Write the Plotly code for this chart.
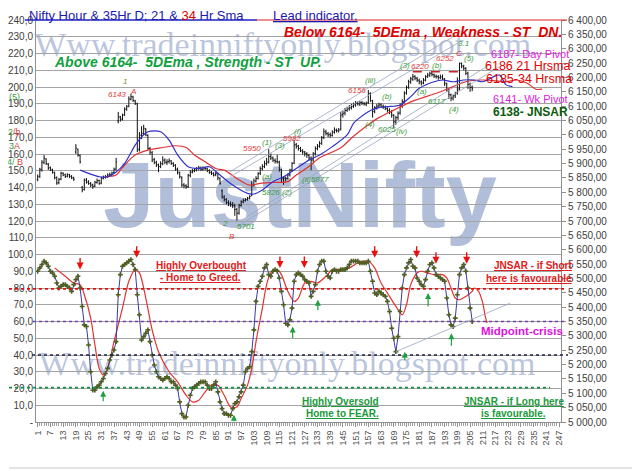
import plotly.graph_objects as go

# hourly bars (bar number on the x axis)
bars = list(range(1, 207))

price_open = [
    5845, 5856, 5878, 5903, 5916, 5898, 5886, 5878, 5868, 5852,
    5834, 5846, 5866, 5861, 5856, 5861, 5856, 5851, 5940, 5950,
    5928, 5818, 5810, 5842, 5836, 5831, 5826, 5822, 5834, 5841,
    5832, 5849, 5851, 5854, 5859, 5861, 5868, 5881, 6048, 6062,
    6054, 6070, 6088, 6100, 6124, 6132, 6118, 6108, 5950, 5998,
    6004, 6020, 5998, 5952, 5938, 5914, 5903, 5896, 5890, 5899,
    5912, 5904, 5907, 5909, 5901, 5894, 5881, 5868, 5850, 5826,
    5823, 5820, 5858, 5870, 5874, 5877, 5882, 5884, 5879, 5884,
    5882, 5876, 5869, 5865, 5861, 5865, 5849, 5805, 5783, 5774,
    5764, 5760, 5757, 5754, 5741, 5728, 5754, 5766, 5771, 5774,
    5780, 5790, 5826, 5839, 5849, 5866, 5882, 5889, 5899, 5906,
    5925, 5919, 5911, 5907, 5905, 5878, 5849, 5851, 5849, 5861,
    5878, 5902, 5966, 5961, 5952, 5944, 5940, 5934, 5929, 5919,
    5913, 5934, 5952, 5961, 5971, 5991, 6010, 6004, 6001, 5998,
    6009, 6016, 6014, 6020, 6070, 6076, 6085, 6091, 6094, 6099,
    6104, 6111, 6107, 6113, 6109, 6107, 6112, 6144, 6118, 6082,
    6094, 6101, 6105, 6099, 6097, 6091, 6085, 6079, 6068, 6044,
    6061, 6076, 6101, 6116, 6146, 6166, 6184, 6194, 6203, 6197,
    6190, 6184, 6181, 6191, 6203, 6207, 6215, 6209, 6204, 6203,
    6199, 6201, 6194, 6178, 6155, 6139, 6128, 6136, 6146, 6160,
    6248, 6238, 6231, 6215, 6176, 6166,
]
price_high = [
    5862, 5885, 5912, 5930, 5918, 5902, 5890, 5882, 5872, 5855,
    5850, 5872, 5870, 5865, 5866, 5864, 5860, 5854, 5968, 5952,
    5932, 5822, 5848, 5850, 5842, 5836, 5830, 5840, 5848, 5844,
    5854, 5858, 5860, 5866, 5868, 5872, 5886, 5920, 6080, 6066,
    6074, 6096, 6104, 6134, 6143, 6136, 6122, 6112, 6010, 6030,
    6035, 6024, 6002, 5958, 5944, 5920, 5910, 5900, 5908, 5925,
    5918, 5915, 5918, 5912, 5905, 5898, 5886, 5872, 5856, 5832,
    5828, 5864, 5878, 5882, 5884, 5888, 5892, 5890, 5890, 5888,
    5886, 5880, 5874, 5870, 5872, 5868, 5852, 5810, 5790, 5780,
    5772, 5768, 5766, 5760, 5745, 5760, 5772, 5778, 5780, 5784,
    5790, 5840, 5848, 5856, 5870, 5890, 5898, 5910, 5920, 5950,
    5935, 5925, 5918, 5930, 5910, 5882, 5856, 5855, 5865, 5882,
    5905, 5982, 5972, 5965, 5958, 5950, 5944, 5940, 5934, 5925,
    5940, 5960, 5968, 5978, 5996, 6022, 6018, 6010, 6008, 6016,
    6026, 6022, 6024, 6080, 6084, 6094, 6098, 6104, 6108, 6112,
    6118, 6116, 6118, 6118, 6115, 6116, 6156, 6148, 6122, 6100,
    6108, 6112, 6110, 6106, 6102, 6096, 6092, 6086, 6072, 6066,
    6082, 6110, 6124, 6152, 6172, 6192, 6202, 6212, 6208, 6202,
    6196, 6190, 6198, 6208, 6216, 6220, 6220, 6214, 6210, 6208,
    6210, 6210, 6198, 6182, 6160, 6144, 6140, 6150, 6200, 6252,
    6252, 6244, 6236, 6220, 6182, 6172,
]
price_low = [
    5838, 5850, 5872, 5898, 5895, 5878, 5874, 5865, 5845, 5826,
    5828, 5842, 5856, 5850, 5852, 5850, 5846, 5840, 5934, 5924,
    5900, 5800, 5806, 5830, 5826, 5818, 5812, 5818, 5830, 5826,
    5828, 5845, 5848, 5850, 5855, 5858, 5864, 5876, 6040, 6046,
    6050, 6066, 6084, 6096, 6120, 6114, 6104, 5940, 5942, 5985,
    6000, 5995, 5948, 5930, 5905, 5898, 5888, 5870, 5884, 5894,
    5898, 5895, 5900, 5895, 5888, 5875, 5862, 5848, 5818, 5814,
    5812, 5815, 5852, 5866, 5870, 5873, 5876, 5874, 5875, 5876,
    5870, 5864, 5860, 5855, 5856, 5842, 5826, 5778, 5768, 5758,
    5752, 5750, 5745, 5718, 5701, 5722, 5750, 5762, 5768, 5771,
    5775, 5786, 5820, 5834, 5844, 5860, 5876, 5884, 5893, 5900,
    5912, 5905, 5900, 5900, 5872, 5836, 5826, 5838, 5845, 5855,
    5872, 5898, 5952, 5945, 5940, 5932, 5925, 5920, 5912, 5877,
    5905, 5928, 5946, 5955, 5965, 5985, 5998, 5992, 5990, 5994,
    6004, 6008, 6008, 6015, 6060, 6068, 6080, 6084, 6088, 6094,
    6098, 6102, 6100, 6104, 6102, 6100, 6108, 6115, 6060, 6075,
    6088, 6094, 6094, 6090, 6086, 6078, 6072, 6060, 6025, 6035,
    6052, 6070, 6094, 6110, 6140, 6160, 6178, 6188, 6190, 6184,
    6176, 6172, 6176, 6186, 6198, 6202, 6204, 6198, 6196, 6192,
    6194, 6190, 6170, 6150, 6125, 6117, 6120, 6128, 6140, 6155,
    6232, 6225, 6208, 6160, 6150, 6152,
]
price_close = [
    5854, 5880, 5905, 5919, 5900, 5884, 5880, 5870, 5850, 5832,
    5845, 5867, 5860, 5855, 5862, 5855, 5850, 5845, 5954, 5930,
    5906, 5808, 5843, 5835, 5830, 5825, 5820, 5835, 5840, 5830,
    5850, 5852, 5855, 5860, 5862, 5867, 5880, 5906, 6063, 6055,
    6069, 6090, 6098, 6125, 6133, 6120, 6110, 5947, 5999, 6005,
    6023, 6000, 5953, 5940, 5912, 5905, 5895, 5889, 5900, 5912,
    5905, 5906, 5910, 5900, 5895, 5880, 5870, 5854, 5825, 5822,
    5819, 5860, 5871, 5875, 5878, 5883, 5885, 5880, 5885, 5883,
    5875, 5870, 5866, 5860, 5866, 5850, 5831, 5784, 5775, 5765,
    5761, 5758, 5755, 5740, 5727, 5755, 5767, 5772, 5775, 5779,
    5785, 5825, 5840, 5848, 5865, 5883, 5890, 5900, 5905, 5924,
    5920, 5912, 5908, 5906, 5880, 5848, 5850, 5848, 5860, 5877,
    5900, 5964, 5960, 5953, 5945, 5941, 5935, 5930, 5920, 5912,
    5935, 5953, 5960, 5970, 5990, 6011, 6005, 6000, 5999, 6010,
    6017, 6015, 6017, 6069, 6075, 6086, 6090, 6095, 6098, 6105,
    6110, 6108, 6112, 6110, 6108, 6110, 6145, 6120, 6081, 6095,
    6100, 6104, 6100, 6098, 6092, 6086, 6080, 6069, 6046, 6060,
    6075, 6100, 6115, 6145, 6165, 6185, 6195, 6202, 6198, 6191,
    6185, 6180, 6190, 6202, 6208, 6214, 6210, 6205, 6202, 6200,
    6202, 6195, 6180, 6156, 6140, 6127, 6135, 6145, 6156, 6249,
    6240, 6232, 6214, 6175, 6165, 6162,
]

# 21 and 34 hour SMA (read at points along the lines, incl. projection)
sma21_x = [21, 25, 30, 34, 38, 42, 47, 50, 53, 56,
           59, 63, 67, 72, 77, 82, 87, 93, 100, 103,
           107, 112, 117, 123, 129, 134, 140, 147, 150, 153,
           158, 162, 166, 172, 177, 181, 188, 192, 197, 202,
           207, 211, 216, 219, 222, 225]
sma21 = [5877, 5866, 5854, 5854, 5871, 5900, 5964, 5993, 6011, 6014,
         6011, 5982, 5930, 5889, 5883, 5889, 5860, 5825, 5796, 5794,
         5808, 5837, 5854, 5883, 5912, 5930, 5959, 6000, 6040, 6060,
         6085, 6095, 6098, 6104, 6133, 6162, 6185, 6191, 6185, 6191,
         6191, 6185, 6202, 6208, 6174, 6168]
sma34_x = [33, 38, 42, 47, 53, 60, 66, 71, 75, 80,
           85, 89, 95, 101, 106, 112, 119, 123, 129, 134,
           144, 150, 156, 162, 169, 177, 185, 191, 197, 203,
           210, 216, 222, 227, 232, 236, 239]
sma34 = [5854, 5860, 5895, 5930, 5947, 5956, 5962, 5956, 5930, 5906,
         5883, 5877, 5848, 5825, 5831, 5834, 5837, 5860, 5890, 5920,
         5955, 5995, 6030, 6060, 6086, 6115, 6135, 6150, 6168, 6185,
         6191, 6189, 6185, 6191, 6180, 6159, 6159]

# lead indicator (fast line, one value per bar)
osc_fast = [
    90, 92, 94, 96, 95, 93, 90, 89, 87, 83,
    80, 81, 82, 82, 81, 80, 78, 82, 85, 87,
    80, 69, 58, 57, 46, 30, 19, 19, 21, 22,
    24, 26, 29, 32, 37, 40, 43, 48, 76, 88,
    93, 94, 95, 96, 97, 94, 91, 76, 64, 49,
    51, 53, 55, 48, 40, 34, 30, 27, 26, 25,
    26, 27, 26, 24, 24, 22, 20, 12, 5, 3,
    3, 10, 16, 20, 21, 22, 23, 24, 24, 24,
    22, 20, 20, 22, 24, 18, 12, 8, 5, 5,
    4, 4, 8, 11, 12, 15, 18, 22, 30, 32,
    33, 42, 55, 72, 81, 84, 87, 92, 94, 88,
    87, 90, 91, 90, 86, 78, 70, 59, 58, 61,
    68, 84, 88, 89, 88, 87, 85, 84, 83, 75,
    78, 82, 90, 94, 96, 96, 90, 87, 86, 90,
    91, 90, 90, 91, 91, 91, 92, 94, 96, 96,
    96, 96, 95, 95, 95, 95, 96, 90, 84, 77,
    76, 78, 77, 76, 75, 72, 66, 56, 50, 42,
    51, 66, 80, 88, 92, 95, 97, 93, 92, 86,
    84, 82, 81, 85, 90, 94, 95, 92, 88, 87,
    86, 85, 84, 74, 64, 58, 57, 62, 76, 88,
    92, 94, 90, 80, 68, 60,
]

# slow (red) line of the indicator, read at points along the curve
osc_slow_x = [9, 14, 18, 21, 23, 26, 28, 30, 32, 34,
              37, 41, 44, 47, 49, 52, 55, 58, 63, 67,
              71, 74, 77, 80, 83, 86, 89, 92, 95, 97,
              100, 102, 104, 107, 109, 111, 114, 116, 119, 122,
              124, 127, 130, 133, 137, 140, 143, 148, 152, 157,
              160, 163, 166, 170, 173, 175, 177, 180, 182, 185,
              188, 192, 194, 196, 198, 200, 203, 206, 207, 209,
              211, 212, 213]
osc_slow = [92, 87, 83, 82, 76, 62, 46, 32, 28, 32,
            48, 68, 84, 91, 89, 74, 55, 42, 30, 24,
            16, 12, 13, 18, 22, 22, 16, 9, 9, 14,
            22, 32, 48, 68, 82, 89, 91, 88, 78, 72,
            74, 83, 84, 83, 87, 91, 91, 92, 95, 96,
            92, 83, 77, 69, 64, 70, 82, 89, 90, 89,
            88, 88, 86, 80, 74, 73, 75, 78, 80, 78,
            71, 64, 59]

# signal arrows on the indicator: (bar, level) and (bar, level, tail offset px)
sell_arrows = [(21, 91), (47.7, 98), (115.3, 92), (126.8, 92),
               (160, 98), (179.8, 98), (188.9, 94.5), (203.4, 94.5)]
buy_arrows = [(31.9, 18.7, 12), (93.6, 4.4, 8), (121.3, 57, 13), (133.2, 73, 12),
              (185.2, 77, 15), (174.2, 42, 10), (196.2, 53, 14)]

# wave counts on the price panel: (text, colour, bar, price)
RED = "#e23a3a"
GRN = "#3c9a3c"
wave_labels = [
    ("1", "#7a9a10", 42.2, 6185), ("6143", RED, 38.3, 6142), ("A", RED, 46.1, 6150),
    ("5950", RED, 102.3, 5951), ("(1)", GRN, 109, 5974), ("(3)", GRN, 115.3, 5963),
    ("5982", RED, 121, 5986), ("(i)", GRN, 123.8, 6012), ("(a)", GRN, 109, 5854),
    ("5826 (2)", GRN, 113.8, 5798), ("(ii)5877", GRN, 131.9, 5843),
    ("2", GRN, 89.5, 5690), ("5701", GRN, 99.3, 5680), ("B", RED, 92.6, 5647),
    ("6156", RED, 151.5, 6156), ("(iii)", GRN, 158, 6190), ("(4)", GRN, 157.7, 6037),
    ("(b)", GRN, 165.6, 6133), ("6025", GRN, 165.6, 6019), ("(iv)", GRN, 172.7, 6011),
    ("(3)", GRN, 174.3, 6240), ("6220", RED, 181.5, 6237), ("(b)", GRN, 189.3, 6240),
    ("(a)", GRN, 182.1, 6150), ("6252", RED, 193, 6267), ("3.1", GRN, 201.8, 6318),
    ("C", RED, 199.9, 6282), ("(5)", GRN, 204.4, 6267), ("6117", GRN, 189.5, 6115),
    ("(4)", GRN, 197.5, 6088),
]

x_ticks = [1, 7, 13, 19, 25, 31, 37, 43, 49, 55, 61, 67, 73, 79, 85, 91, 97,
           103, 109, 115, 121, 127, 133, 139, 145, 151, 157, 163, 169, 175,
           181, 187, 193, 199, 205, 211, 217, 223, 229, 235, 241, 247]
left_ticks = [0, 10, 20, 30, 40, 50, 60, 70, 80, 90, 100, 110, 120,
              130, 140, 150, 160, 170, 180, 190, 200, 210, 220, 230, 240]
right_ticks = [5000, 5050, 5100, 5150, 5200, 5250, 5300, 5350, 5400, 5450,
               5500, 5550, 5600, 5650, 5700, 5750, 5800, 5850, 5900, 5950,
               6000, 6050, 6100, 6150, 6200, 6250, 6300, 6350, 6400]

FONT = "Liberation Sans"
# the page body adds an 8px offset, so the figure is 8px smaller than the window
PAGE_OFF = 8
W, H = 640 - PAGE_OFF, 471 - PAGE_OFF
PLOT_L, PLOT_R, PLOT_T, PLOT_B = 36, 561, 20, 422  # plot box in window pixels
PW, PH = PLOT_R - PLOT_L, PLOT_B - PLOT_T


def px(x):
    return (x - PLOT_L) / PW


def py(y):
    return (PLOT_B - y) / PH


fig = go.Figure()

fig.add_trace(go.Ohlc(
    x=bars, open=price_open, high=price_high, low=price_low, close=price_close,
    yaxis="y2", tickwidth=0.45,
    increasing=dict(line=dict(color="#111111", width=1)),
    decreasing=dict(line=dict(color="#111111", width=1)),
))
fig.add_trace(go.Scatter(
    x=sma34_x, y=sma34, yaxis="y2", mode="lines",
    line=dict(color="#e23232", width=1.2, shape="spline", smoothing=0.8),
))
fig.add_trace(go.Scatter(
    x=sma21_x, y=sma21, yaxis="y2", mode="lines",
    line=dict(color="#3030cc", width=1.2, shape="spline", smoothing=0.8),
))
fig.add_trace(go.Scatter(
    x=osc_slow_x, y=osc_slow, mode="lines",
    line=dict(color="#e23232", width=1.2, shape="spline", smoothing=0.8),
))
fig.add_trace(go.Scatter(
    x=bars, y=osc_fast, mode="lines+markers",
    line=dict(color="#3a3aa0", width=1),
    marker=dict(symbol="cross", size=4, color="#4f5e22"),
))

shapes = []
# watermarks (drawn below the data)
wm = "rgba(100,125,180,0.45)"
shapes.append(dict(type="rect", xref="paper", yref="paper", x0=0, x1=0.94, y0=0.92, y1=0.98,
                   line=dict(width=0), layer="below",
                   label=dict(text="Www.tradeinniftyonly.blogspot.com",
                              font=dict(family="Liberation Serif", size=34, color=wm))))
shapes.append(dict(type="rect", xref="paper", yref="paper", x0=0, x1=0.956, y0=0.125, y1=0.185,
                   line=dict(width=0), layer="below",
                   label=dict(text="Www.tradeinniftyonly.blogspot.com",
                              font=dict(family="Liberation Serif", size=34, color=wm))))
shapes.append(dict(type="rect", xref="paper", yref="paper", x0=0, x1=1.006, y0=0.535, y1=0.639,
                   line=dict(width=0), layer="below",
                   label=dict(text="<b>JustNifty</b>",
                              font=dict(family="Liberation Sans", size=92,
                                        color="rgba(100,125,180,0.5)"))))

# channel lines on price
chan = "#9aa4c4"
for x0, y0, x1, y1 in [(91.8, 5872, 197, 6342), (91.8, 5854, 200.2, 6324),
                       (94.9, 5680, 218.7, 6237), (100, 5716, 215, 6248)]:
    shapes.append(dict(type="line", xref="x", yref="y2", x0=x0, y0=y0, x1=x1, y1=y1,
                       line=dict(color=chan, width=0.8)))
shapes.append(dict(type="line", xref="x", yref="y2", x0=178, y0=6220, x1=203, y1=6220,
                   line=dict(color="#d42020", width=1.5, dash="dash")))
# indicator levels
for lvl, c, a, b in [(79.5, "#e01010", 9, 567), (60, "#7040a8", 33, 567),
                     (40, "#202040", 32, 568), (20.5, "#109040", 9, 550)]:
    shapes.append(dict(type="line", xref="paper", yref="y", x0=px(a), x1=px(b), y0=lvl, y1=lvl,
                       line=dict(color=c, width=1.6, dash="dot")))
shapes.append(dict(type="line", xref="x", yref="y", x0=170, y0=42, x1=224, y1=71,
                   line=dict(color=chan, width=0.8)))
# top border / title underline
shapes.append(dict(type="line", xref="paper", yref="paper", x0=px(25), x1=px(257), y0=1, y1=1,
                   line=dict(color="#2020c0", width=1.5)))
shapes.append(dict(type="line", xref="paper", yref="paper", x0=px(257), x1=px(567), y0=1, y1=1,
                   line=dict(color="#e02020", width=1.2)))
# outer frame (right and bottom edges)
shapes.append(dict(type="line", xref="paper", yref="paper", x0=px(9), x1=px(637),
                   y0=py(468), y1=py(468), line=dict(color="#c8c8c8", width=1)))
shapes.append(dict(type="line", xref="paper", yref="paper", x0=px(637), x1=px(637),
                   y0=py(468), y1=py(9), line=dict(color="#c8c8c8", width=1)))

ann = []


def text(t, x, y, color, size, xanchor="center", bold=False, italic=False):
    if bold:
        t = "<b>" + t + "</b>"
    if italic:
        t = "<i>" + t + "</i>"
    ann.append(dict(text=t, x=px(x), y=py(y), xref="paper", yref="paper", showarrow=False,
                    xanchor=xanchor, yanchor="middle", borderpad=0,
                    font=dict(family=FONT, size=size, color=color)))


text("Nifty Hour &amp; 35Hr D; 21 &amp; <span style='color:#e00000'>34</span> Hr Sma",
     28, 15.5, "#1a1ab0", 13, xanchor="left")
text("<u>Lead indicator.</u>", 272, 15.5, "#1a1ab0", 13, xanchor="left")
text("Below 6164-  5DEma , Weakness - ST  DN.", 563, 32, "#e00000", 14,
     xanchor="right", bold=True, italic=True)
text("Above 6164-  5DEma , Strength - ST  UP.", 53, 62, "#10a040", 14,
     xanchor="left", bold=True, italic=True)
text("6187- Day Pivot", 570, 54, "#e020e0", 11, xanchor="right")
text("6186 21 Hrsma", 572, 65.5, "#e00000", 12.5, xanchor="right")
text("6185-34 Hrsma", 573, 78.5, "#e00000", 12.5, xanchor="right")
text("6141- Wk Pivot", 569, 99, "#e020e0", 11, xanchor="right")
text("6138- JNSAR", 569, 111.5, "#0c5a0c", 12, xanchor="right", bold=True)
text("(5)", 14, 97, GRN, 9)
text("2<span style='color:#e23a3a'>/b</span>", 14, 132, GRN, 9)
text("3<span style='color:#e23a3a'>A</span>", 14, 146, GRN, 9)
text("4/ <span style='color:#e23a3a'>B</span>", 15, 162, GRN, 9)
text("<u>Highly Overbought</u>", 201, 265, "#e02020", 10, bold=True)
text("<u>- Home to Greed.</u>", 200, 277.5, "#e02020", 10, bold=True)
text("<u>JNSAR - if Short</u>", 573, 265.5, "#e02020", 10, xanchor="right", bold=True)
text("<u>here is favourable</u>", 573, 278, "#e02020", 10, xanchor="right", bold=True)
text("Midpoint-crisis", 522, 331, "#e010e0", 11.5, bold=True)
text("<u>Highly Oversold</u>", 340, 401, "#1a9a3a", 10, bold=True)
text("<u>Home to FEAR.</u>", 342, 413.5, "#1a9a3a", 10, bold=True)
text("<u>JNSAR - if Long here</u>", 514, 401, "#1a9a3a", 10, bold=True)
text("<u>is favourable.</u>", 513, 413.5, "#1a9a3a", 10, bold=True)

for t, c, bx, pr in wave_labels:
    ann.append(dict(text="<i>" + t + "</i>", x=bx, y=pr, xref="x", yref="y2", showarrow=False,
                    borderpad=0, font=dict(family=FONT, size=8, color=c)))

for bx, lv in sell_arrows:
    ann.append(dict(text="", x=bx, y=lv, xref="x", yref="y", ax=0, ay=-13,
                    showarrow=True, arrowhead=2, arrowsize=1, arrowwidth=1.4,
                    arrowcolor="#e81010"))
for bx, lv, off in buy_arrows:
    ann.append(dict(text="", x=bx, y=lv, xref="x", yref="y", ax=0, ay=off,
                    showarrow=True, arrowhead=2, arrowsize=1, arrowwidth=1.2,
                    arrowcolor="#20a040"))

left_text = ["-" if v == 0 else f"{v},0" for v in left_ticks]
right_text = [f"{v // 1000} {v % 1000:03d},00" for v in right_ticks]

fig.update_layout(
    width=W, height=H,
    margin=dict(l=PLOT_L - PAGE_OFF, r=640 - PLOT_R, t=PLOT_T - PAGE_OFF, b=471 - PLOT_B,
                autoexpand=False),
    paper_bgcolor="white", plot_bgcolor="white",
    showlegend=False,
    font=dict(family=FONT, size=10, color="#404040"),
    shapes=shapes,
    annotations=ann,
    xaxis=dict(range=[0.2, 247.9], tickmode="array", tickvals=x_ticks, automargin=False,
               ticktext=[str(v) for v in x_ticks], tickangle=-90,
               tickfont=dict(size=9, color="#505050"), showgrid=False, zeroline=False,
               showline=True, linecolor="#909090", ticks="outside", ticklen=4,
               tickcolor="#909090", rangeslider=dict(visible=False),
               minor=dict(dtick=1, tick0=0, ticks="outside", ticklen=3, tickcolor="#a0a0a0")),
    yaxis=dict(range=[0, 240], tickmode="array", tickvals=left_ticks, ticktext=left_text,
               automargin=False, showgrid=True, gridcolor="#a3a3a3", gridwidth=1,
               zeroline=False, showline=True, linecolor="#909090",
               tickfont=dict(size=10, color="#404040")),
    yaxis2=dict(range=[5000, 6400], overlaying="y", side="right", tickmode="array",
                tickvals=right_ticks, ticktext=right_text, automargin=False,
                showgrid=False, zeroline=False,
                showline=True, linecolor="#909090", ticks="outside", ticklen=4,
                tickcolor="#909090", tickfont=dict(size=10, color="#404040")),
)

fig.write_html("out.html")
